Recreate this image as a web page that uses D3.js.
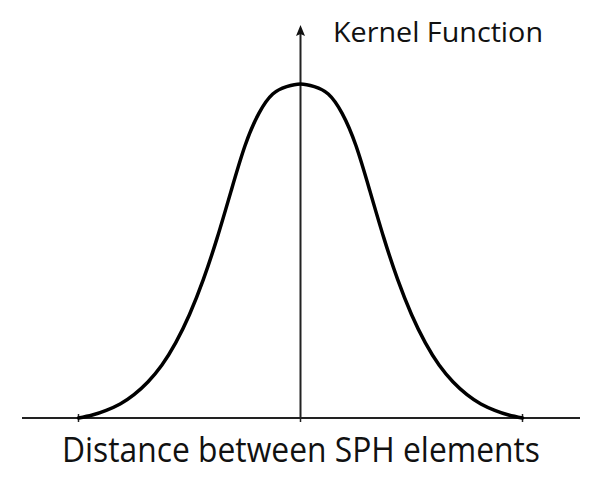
<!DOCTYPE html>
<html>
<head>
<meta charset="utf-8">
<script src="https://cdn.jsdelivr.net/npm/d3@7"></script>
<style>
  html, body { margin: 0; padding: 0; background: #fff; }
  svg { display: block; }
</style>
</head>
<body>
<svg id="chart" width="600" height="488"></svg>
<script>
// Distance (in smoothing-length units, q) and normalized kernel value
const distances = [-2, -1.875, -1.75, -1.625, -1.5, -1.375, -1.25, -1.125, -1, -0.875, -0.75, -0.625, -0.5, -0.375, -0.25, -0.125,
                   0, 0.125, 0.25, 0.375, 0.5, 0.625, 0.75, 0.875, 1, 1.125, 1.25, 1.375, 1.5, 1.625, 1.75, 1.875, 2];
const kernelValues = [0, 0.009, 0.023, 0.042, 0.07, 0.108, 0.158, 0.225, 0.31, 0.415, 0.54, 0.68, 0.815, 0.912, 0.970, 0.992,
                      1, 0.992, 0.970, 0.912, 0.815, 0.68, 0.54, 0.415, 0.31, 0.225, 0.158, 0.108, 0.07, 0.042, 0.023, 0.009, 0];
const tickValues = [-2, 0, 2];
const xLabel = "Distance between SPH elements";
const yLabel = "Kernel Function";

const svg = d3.select("#chart");

const x = d3.scaleLinear().domain([-2, 2]).range([78.5, 522.5]);
const y = d3.scaleLinear().domain([0, 1]).range([418, 84]);

const axisColor = "#222";

// horizontal axis line
svg.append("line")
  .attr("x1", 22).attr("x2", 580)
  .attr("y1", y(0)).attr("y2", y(0))
  .attr("stroke", axisColor).attr("stroke-width", 2);

// ticks
svg.selectAll("line.tick").data(tickValues).enter().append("line")
  .attr("class", "tick")
  .attr("x1", d => x(d)).attr("x2", d => x(d))
  .attr("y1", d => d === 0 ? y(0) : y(0) - 4)
  .attr("y2", y(0) + 4)
  .attr("stroke", axisColor).attr("stroke-width", 1.5);

// vertical axis with arrow
const arrowTip = 25;
svg.append("line")
  .attr("x1", x(0)).attr("x2", x(0))
  .attr("y1", y(0)).attr("y2", arrowTip + 6)
  .attr("stroke", axisColor).attr("stroke-width", 2);
svg.append("path")
  .attr("d", `M${x(0)},${arrowTip} L${x(0) + 4.5},${arrowTip + 11} L${x(0)},${arrowTip + 9} L${x(0) - 4.5},${arrowTip + 11} Z`)
  .attr("fill", "#111");

// kernel curve
const pts = distances.map((d, i) => [d, kernelValues[i]]);
const line = d3.line()
  .x(d => x(d[0]))
  .y(d => y(d[1]))
  .curve(d3.curveNatural);
svg.append("path")
  .datum(pts)
  .attr("d", line)
  .attr("fill", "none")
  .attr("stroke", "#000")
  .attr("stroke-width", 3.5)
  .attr("stroke-linecap", "round");

// labels
svg.append("text")
  .attr("x", 333).attr("y", 42)
  .attr("font-family", "'Open Sans', sans-serif")
  .attr("font-size", 26.5)
  .attr("fill", "#111")
  .attr("textLength", 210)
  .attr("lengthAdjust", "spacingAndGlyphs")
  .text(yLabel);

svg.append("text")
  .attr("x", 62).attr("y", 462)
  .attr("font-family", "'Open Sans', sans-serif")
  .attr("font-size", 35)
  .attr("fill", "#111")
  .attr("textLength", 478)
  .attr("lengthAdjust", "spacingAndGlyphs")
  .text(xLabel);
</script>
</body>
</html>
